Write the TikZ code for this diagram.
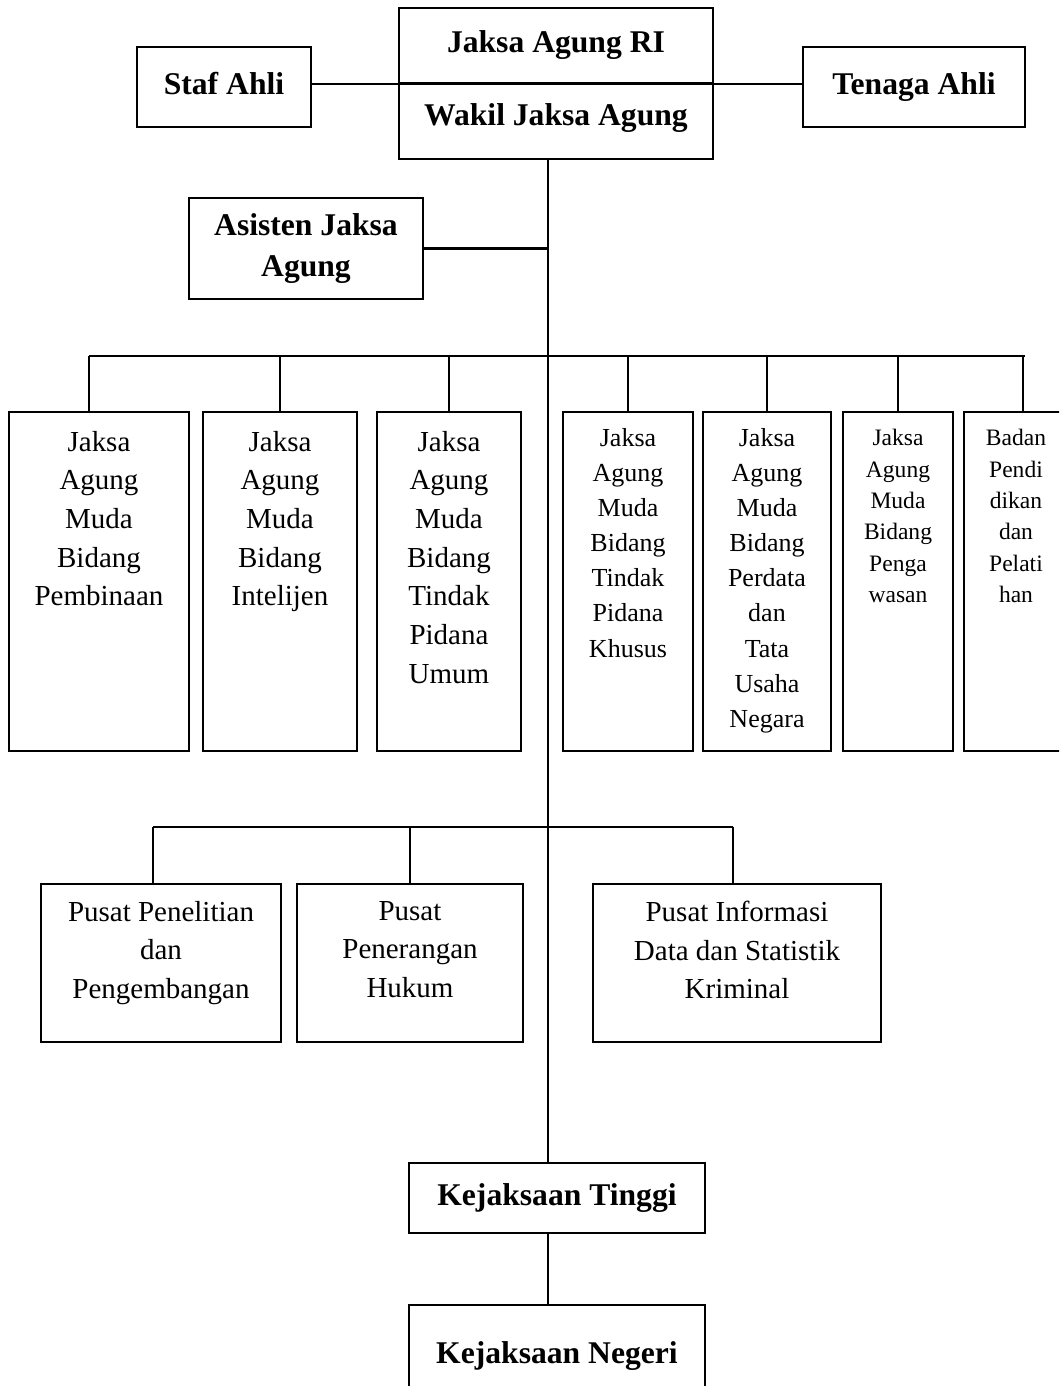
\documentclass[tikz,border=0pt]{standalone}
\usepackage{fontspec}
\setmainfont{Liberation Serif}

\tikzset{
  kotak/.style={draw, line width=1.2pt, inner sep=0pt},
  tebal/.style={font=\fontsize{18}{23}\selectfont\bfseries, align=center},
  satu/.style={tebal, text height=12.3pt, text depth=3.9pt},
  isi/.style={font=\fontsize{16.5}{22}\selectfont, align=center, anchor=north, inner xsep=0pt, inner ysep=10.8pt},
  isikecil/.style={isi, font=\fontsize{14.8}{20}\selectfont, inner ysep=9.2pt},
  isimini/.style={isi, font=\fontsize{13.4}{17.8}\selectfont, inner ysep=10pt},
}

\begin{document}
\begin{tikzpicture}[x=0.02cm, y=-0.02cm, line width=1.2pt]
\clip (0,0) rectangle (1059,1386);
\coordinate (tengah) at (548,0);
\coordinate (bus1) at (0,356);
\coordinate (bus2) at (0,827);

\node[kotak, satu, minimum width=6.28cm, minimum height=1.5cm] (jagung) at (556,45.5) {Jaksa Agung RI};
\node[kotak, minimum width=6.28cm, minimum height=1.52cm] (wakil) at (556,121) {};
\node[satu, inner sep=0pt] (wakilt) at (556,118) {Wakil Jaksa Agung};
\node[kotak, satu, minimum width=3.48cm, minimum height=1.6cm] (staf) at (224,87) {Staf Ahli};
\node[kotak, satu, minimum width=4.44cm, minimum height=1.6cm] (tenaga) at (914,87) {Tenaga Ahli};
\node[kotak, tebal, minimum width=4.68cm, minimum height=2.02cm] (asisten) at (306,248.5) {Asisten Jaksa\\Agung};

\node[kotak, minimum width=3.6cm, minimum height=6.78cm] (jam1) at (99,581.5) {};
\node[kotak, minimum width=3.08cm, minimum height=6.78cm] (jam2) at (280,581.5) {};
\node[kotak, minimum width=2.88cm, minimum height=6.78cm] (jam3) at (449,581.5) {};
\node[kotak, minimum width=2.6cm, minimum height=6.78cm] (jam4) at (628,581.5) {};
\node[kotak, minimum width=2.56cm, minimum height=6.78cm] (jam5) at (767,581.5) {};
\node[kotak, minimum width=2.2cm, minimum height=6.78cm] (jam6) at (898,581.5) {};
\node[kotak, minimum width=2.08cm, minimum height=6.78cm] (badan) at (1016,581.5) {};
\node[isi] (jam1t) at (jam1.north) {Jaksa\\Agung\\Muda\\Bidang\\Pembinaan};
\node[isi] (jam2t) at (jam2.north) {Jaksa\\Agung\\Muda\\Bidang\\Intelijen};
\node[isi] (jam3t) at (jam3.north) {Jaksa\\Agung\\Muda\\Bidang\\Tindak\\Pidana\\Umum};
\node[isikecil] (jam4t) at (jam4.north) {Jaksa\\Agung\\Muda\\Bidang\\Tindak\\Pidana\\Khusus};
\node[isikecil] (jam5t) at (jam5.north) {Jaksa\\Agung\\Muda\\Bidang\\Perdata\\dan\\Tata\\Usaha\\Negara};
\node[isimini] (jam6t) at (jam6.north) {Jaksa\\Agung\\Muda\\Bidang\\Penga\\wasan};
\node[isimini] (badant) at (badan.north) {Badan\\Pendi\\dikan\\dan\\Pelati\\han};

\node[kotak, minimum width=4.8cm, minimum height=3.16cm] (pus1) at (161,963) {};
\node[kotak, minimum width=4.52cm, minimum height=3.16cm] (pus2) at (410,963) {};
\node[kotak, minimum width=5.76cm, minimum height=3.16cm] (pus3) at (737,963) {};
\node[isi, inner ysep=9.7pt] (pus1t) at (pus1.north) {Pusat Penelitian\\dan\\Pengembangan};
\node[isi, inner ysep=9.7pt] (pus2t) at (pus2.north) {Pusat\\Penerangan\\Hukum};
\node[isi, inner ysep=9.7pt] (pus3t) at (pus3.north) {Pusat Informasi\\Data dan Statistik\\Kriminal};

\node[kotak, satu, minimum width=5.92cm, minimum height=1.4cm] (tinggi) at (557,1198) {Kejaksaan Tinggi};
\node[kotak, satu, minimum width=5.92cm, minimum height=2.04cm] (negeri) at (557,1356) {Kejaksaan Negeri};

\draw (staf.east |- jagung.south) -- (tenaga.west |- jagung.south);
\draw (wakil.south -| tengah) -- (tinggi.north -| tengah);
\draw (tinggi.south -| tengah) -- (negeri.north -| tengah);
\draw (asisten.east) -- (asisten.east -| tengah);

\draw ([xshift=-0.2cm]jam1.north |- bus1) -- ([xshift=0.18cm]badan.north |- bus1);
\draw ([xshift=-0.2cm]jam1.north) -- ([xshift=-0.2cm]jam1.north |- bus1);
\draw ([xshift=0.14cm]badan.north) -- ([xshift=0.14cm]badan.north |- bus1);
\foreach \n in {jam2,jam3,jam4,jam5,jam6}
  \draw (\n.north) -- (\n.north |- bus1);

\draw ([xshift=-0.16cm]pus1.north |- bus2) -- ([xshift=-0.08cm]pus3.north |- bus2);
\draw ([xshift=-0.16cm]pus1.north) -- ([xshift=-0.16cm]pus1.north |- bus2);
\draw (pus2.north) -- (pus2.north |- bus2);
\draw ([xshift=-0.08cm]pus3.north) -- ([xshift=-0.08cm]pus3.north |- bus2);
\end{tikzpicture}
\end{document}
